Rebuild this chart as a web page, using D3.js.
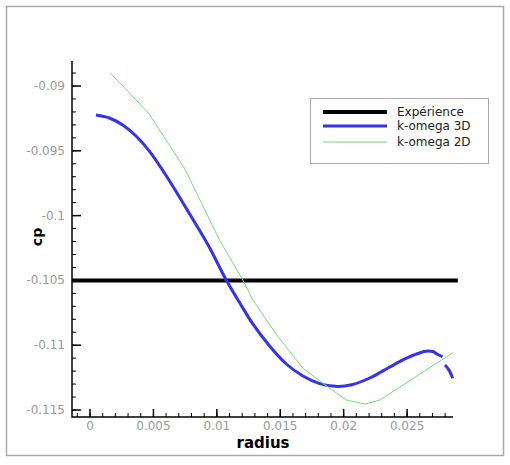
<!DOCTYPE html>
<html>
<head>
<meta charset="utf-8">
<script src="https://cdn.jsdelivr.net/npm/d3@7"></script>
<style>
  body { margin: 0; background: #fff; }
  svg { display: block; font-family: "DejaVu Sans", sans-serif; }
</style>
</head>
<body>
<svg id="chart" width="510" height="465"></svg>
<script>
// cp along the radius, three series
const expRadius = [-0.0014, 0.029];
const expCp = [-0.105, -0.105];

// k-omega 3D (null marks the small break near the end)
const k3dRadius = [0.00047, 0.00152, 0.00258, 0.00363, 0.00468, 0.00587, 0.00705, 0.00824,
  0.00942, 0.01074, 0.01179, 0.01284, 0.01416, 0.01548, 0.01679, 0.01811, 0.01956, 0.02072,
  0.02206, 0.02364, 0.02483, 0.02575, 0.02664, 0.02704, 0.02735, 0.0278, null,
  0.02799, 0.02838, 0.02859];
const k3dCp = [-0.09224, -0.09247, -0.09301, -0.09386, -0.09502, -0.09671, -0.09856, -0.10049,
  -0.10246, -0.10497, -0.10671, -0.10836, -0.11006, -0.11145, -0.11238, -0.11296, -0.11319, -0.11303,
  -0.11253, -0.11168, -0.11106, -0.11068, -0.11045, -0.11049, -0.11068, -0.11089, null,
  -0.11153, -0.11205, -0.11255];

// k-omega 2D
const k2dRadius = [0.00158, 0.00463, 0.00745, 0.01021, 0.01205, 0.01284, 0.01482, 0.01679,
  0.01837, 0.02022, 0.02167, 0.02285, 0.02864];
const k2dCp = [-0.08897, -0.09211, -0.09635, -0.10188, -0.10497, -0.10651, -0.10934, -0.11178,
  -0.11294, -0.11423, -0.11454, -0.11423, -0.11056];

const xTicks = [0, 0.005, 0.01, 0.015, 0.02, 0.025];
const yTicks = [-0.09, -0.095, -0.1, -0.105, -0.11, -0.115];
const legendNames = ["Expérience", "k-omega 3D", "k-omega 2D"];

const svg = d3.select("#chart");
const plotLeft = 72, plotRight = 453, plotTop = 61, plotBottom = 417;

const x = d3.scaleLinear().domain([-0.00142, 0.02862]).range([plotLeft, plotRight]);
const y = d3.scaleLinear().domain([-0.08807, -0.11554]).range([plotTop, plotBottom]);

// outer frame
svg.append("rect")
  .attr("x", 6.5).attr("y", 6.5)
  .attr("width", 497).attr("height", 449)
  .attr("fill", "none").attr("stroke", "#aaa").attr("stroke-width", 1.5);

// minor ticks every 0.001
const xMinor = d3.range(-1, 29).map(i => i * 0.001).filter(v => x(v) >= plotLeft);
const yMinor = d3.range(88, 116).map(i => -i * 0.001).filter(v => y(v) >= plotTop && y(v) <= plotBottom);

const axes = svg.append("g").attr("stroke", "#000");
axes.selectAll(".xminor").data(xMinor).join("line")
  .attr("x1", d => x(d)).attr("x2", d => x(d))
  .attr("y1", plotBottom).attr("y2", plotBottom - 4).attr("stroke-width", 1);
axes.selectAll(".xmajor").data(xTicks).join("line")
  .attr("x1", d => x(d)).attr("x2", d => x(d))
  .attr("y1", plotBottom).attr("y2", plotBottom - 8).attr("stroke-width", 1.5);
axes.selectAll(".yminor").data(yMinor).join("line")
  .attr("y1", d => y(d)).attr("y2", d => y(d))
  .attr("x1", plotLeft).attr("x2", plotLeft + 4).attr("stroke-width", 1);
axes.selectAll(".ymajor").data(yTicks).join("line")
  .attr("y1", d => y(d)).attr("y2", d => y(d))
  .attr("x1", plotLeft).attr("x2", plotLeft + 9).attr("stroke-width", 1.5);

axes.append("path")
  .attr("d", `M${plotLeft},${plotTop}V${plotBottom}H${plotRight}`)
  .attr("fill", "none").attr("stroke-width", 1.5);

// tick labels
svg.selectAll(".xlab").data(xTicks).join("text")
  .attr("x", d => x(d)).attr("y", 430)
  .attr("text-anchor", "middle").attr("font-size", 12).attr("fill", "#999")
  .text(d => d3.format("")(d));
svg.selectAll(".ylab").data(yTicks).join("text")
  .attr("x", 65).attr("y", d => y(d) + 4)
  .attr("text-anchor", "end").attr("font-size", 12).attr("fill", "#999")
  .text(d => d3.format("")(d).replace("−", "-"));

svg.append("text")
  .attr("x", 263).attr("y", 448)
  .attr("text-anchor", "middle").attr("font-size", 15).attr("font-weight", "bold")
  .text("radius");
svg.append("text")
  .attr("transform", "translate(42,237) rotate(-90)")
  .attr("text-anchor", "middle").attr("font-size", 14).attr("font-weight", "bold")
  .text("cp");

// series
const series = [
  { rx: expRadius, cp: expCp, color: "#000", width: 4, curve: d3.curveLinear },
  { rx: k3dRadius, cp: k3dCp, color: "#3333ee", width: 3, curve: d3.curveMonotoneX },
  { rx: k2dRadius, cp: k2dCp, color: "#77dd77", width: 1, curve: d3.curveLinear }
];

svg.selectAll(".series").data(series).join("path")
  .attr("d", s => d3.line()
    .defined(d => d[0] !== null)
    .curve(s.curve)
    .x(d => x(d[0])).y(d => y(d[1]))(s.rx.map((v, i) => [v, s.cp[i]])))
  .attr("fill", "none")
  .attr("stroke", s => s.color)
  .attr("stroke-width", s => s.width)
  .attr("stroke-linejoin", "round");

// legend
const lg = svg.append("g").attr("transform", "translate(310,98)");
lg.append("rect").attr("x", 0.5).attr("y", 0.5).attr("width", 178).attr("height", 65)
  .attr("fill", "#fff").attr("stroke", "#aaa");
const rows = lg.selectAll(".row").data(series).join("g")
  .attr("transform", (d, i) => `translate(0,${[14, 28, 44][i]})`);
rows.append("line")
  .attr("x1", 13).attr("x2", 77)
  .attr("stroke", d => d.color).attr("stroke-width", d => d.width);
rows.append("text")
  .attr("x", 87).attr("y", 4).attr("font-size", 12).attr("fill", "#222")
  .text((d, i) => legendNames[i]);
</script>
</body>
</html>
